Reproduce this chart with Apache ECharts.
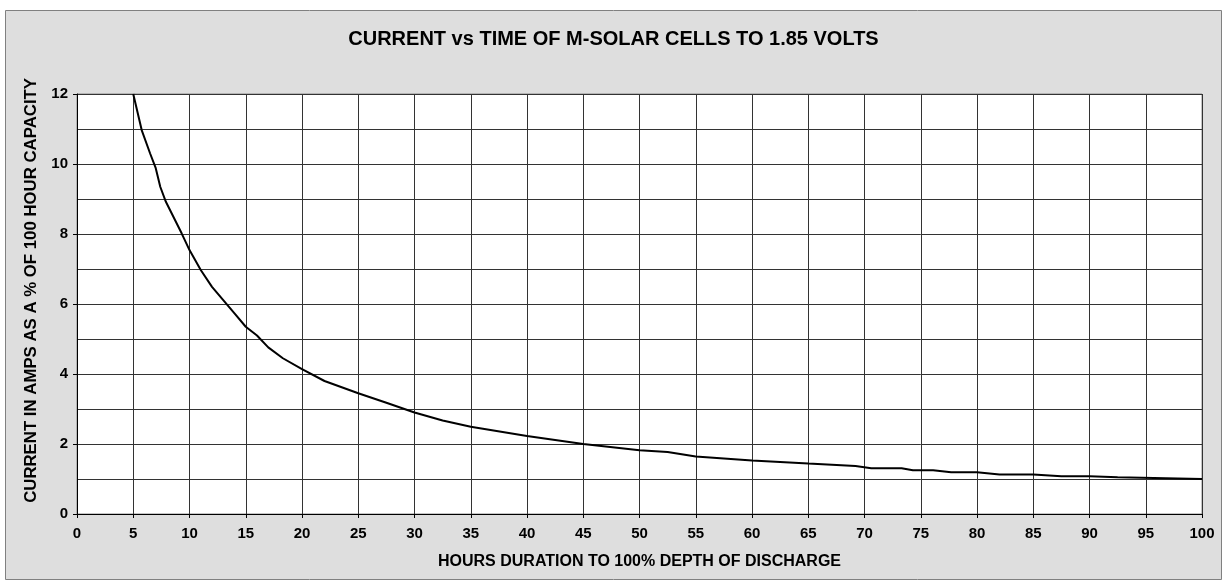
<!DOCTYPE html>
<html>
<head>
<meta charset="utf-8">
<script src="https://cdn.jsdelivr.net/npm/echarts@6/dist/echarts.min.js"></script>
<style>
html,body{margin:0;padding:0;background:#fff;}
#chart{width:1227px;height:585px;}
</style>
</head>
<body>
<div id="chart"></div>
<script>
const titleText = 'CURRENT vs TIME OF M-SOLAR CELLS TO 1.85 VOLTS';
const xAxisName = 'HOURS DURATION TO 100% DEPTH OF DISCHARGE';
const yAxisName = 'CURRENT IN AMPS AS A % OF 100 HOUR CAPACITY';
const hours = [5, 5.75, 6.5, 7, 7.4, 7.9, 9.3, 10, 11, 12, 13, 14, 15, 16, 17, 18.3, 20, 22, 25, 27.5, 30, 32.5, 35, 40, 45, 50, 52.5, 55, 60, 65, 69.2, 70.6, 73.3, 74.3, 76.1, 77.7, 80, 82, 85, 87.5, 90, 92.5, 100];
const current = [12, 10.97, 10.3, 9.88, 9.35, 8.92, 8.02, 7.54, 6.97, 6.49, 6.11, 5.73, 5.35, 5.1, 4.76, 4.45, 4.14, 3.8, 3.45, 3.18, 2.9, 2.67, 2.49, 2.23, 2.0, 1.82, 1.77, 1.64, 1.53, 1.44, 1.37, 1.31, 1.31, 1.25, 1.25, 1.19, 1.19, 1.13, 1.13, 1.08, 1.08, 1.05, 1.0];

const seriesData = hours.map((h, i) => [h, current[i]]);
const font = 'Liberation Sans, Arial, sans-serif';
const chart = echarts.init(document.getElementById('chart'));
chart.setOption({
  animation: false,
  backgroundColor: '#ffffff',
  graphic: [
    {type: 'rect', z: -10, shape: {x: 5.5, y: 10.5, width: 1216, height: 569},
     style: {fill: '#dedede', stroke: '#808080', lineWidth: 1}},
    {type: 'text', z: 10, left: 23, top: 78, rotation: Math.PI / 2,
     style: {text: yAxisName, font: 'bold 16.8px ' + font, fill: '#000'}}
  ],
  title: {
    text: titleText, left: 'center', top: 24,
    textStyle: {fontFamily: font, fontWeight: 'bold', fontSize: 20, color: '#000'}
  },
  grid: {
    left: 77, right: 25, top: 94, bottom: 71,
    show: true, backgroundColor: '#ffffff', borderColor: '#8a8a8a', borderWidth: 1
  },
  xAxis: {
    type: 'value', min: 0, max: 100, interval: 5,
    name: xAxisName, nameLocation: 'middle', nameGap: 40,
    nameTextStyle: {fontFamily: font, fontWeight: 'bold', fontSize: 16, color: '#000'},
    axisLine: {show: true, onZero: false, lineStyle: {color: '#000', width: 1}},
    axisTick: {show: true, inside: false, length: 4, lineStyle: {color: '#000'}},
    axisLabel: {fontFamily: font, fontWeight: 'bold', fontSize: 15, color: '#000', margin: 12},
    splitLine: {show: true, lineStyle: {color: '#333', width: 1}}
  },
  yAxis: {
    type: 'value', min: 0, max: 12, interval: 2,
    axisLine: {show: true, onZero: false, lineStyle: {color: '#000', width: 1}},
    axisTick: {show: true, inside: false, length: 4, lineStyle: {color: '#000'}},
    axisLabel: {fontFamily: font, fontWeight: 'bold', fontSize: 15, color: '#000', margin: 9},
    splitLine: {show: true, lineStyle: {color: '#333', width: 1}},
    minorTick: {show: false, splitNumber: 2},
    minorSplitLine: {show: true, lineStyle: {color: '#333', width: 1}}
  },
  series: [{
    type: 'line', data: seriesData, showSymbol: false, smooth: false,
    lineStyle: {color: '#000', width: 2}, z: 5
  }]
});
</script>
</body>
</html>
